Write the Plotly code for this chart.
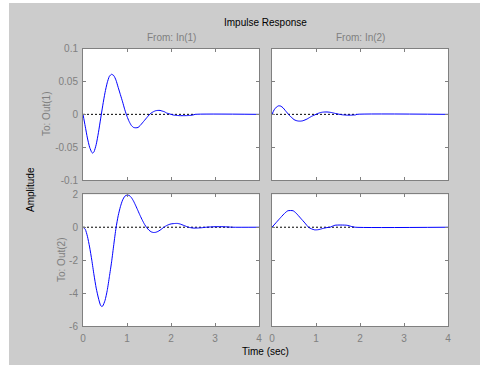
import plotly.graph_objects as go

# ---- data ----
t_11 = [0, 0.05, 0.10, 0.15, 0.20, 0.22, 0.25, 0.30, 0.35, 0.40, 0.45, 0.50, 0.55, 0.60, 0.65,
        0.70, 0.75, 0.80, 0.85, 0.90, 0.95, 1.00, 1.05, 1.10, 1.15, 1.20, 1.25, 1.30, 1.35, 1.40,
        1.45, 1.50, 1.55, 1.60, 1.65, 1.70, 1.75, 1.80, 1.85, 1.90, 1.95, 2.00, 2.05, 2.10, 2.20,
        2.30, 2.40, 2.50, 2.55, 4.0]
y_11 = [0, -0.018, -0.036, -0.050, -0.058, -0.059, -0.057, -0.046, -0.028, -0.007, 0.014, 0.033,
        0.048, 0.058, 0.061, 0.059, 0.052, 0.041, 0.030, 0.019, 0.007, -0.003, -0.011, -0.017,
        -0.020, -0.0205, -0.020, -0.017, -0.013, -0.009, -0.005, -0.001, 0.002, 0.004, 0.0055,
        0.006, 0.006, 0.005, 0.004, 0.002, 0.001, 0.0, -0.001, -0.0015, -0.002, -0.002, -0.0018,
        -0.001, 0, 0]
end_11 = 2.55

t_12 = [0, 0.05, 0.10, 0.15, 0.20, 0.25, 0.30, 0.35, 0.40, 0.45, 0.50, 0.55, 0.60, 0.65, 0.70,
        0.75, 0.80, 0.85, 0.90, 0.95, 1.00, 1.05, 1.10, 1.15, 1.20, 1.25, 1.30, 1.35, 1.40, 1.50,
        1.60, 1.70, 1.80, 1.90, 1.93, 4.0]
y_12 = [0, 0.007, 0.011, 0.013, 0.0125, 0.010, 0.006, 0.002, -0.002, -0.005, -0.008, -0.0095,
        -0.0102, -0.0103, -0.0098, -0.0085, -0.007, -0.005, -0.003, -0.0015, 0.0, 0.0015, 0.0027,
        0.0033, 0.0036, 0.0036, 0.0033, 0.0028, 0.002, 0.0005, -0.0007, -0.0012, -0.0012, -0.0008,
        0, 0]
end_12 = 1.93

t_21 = [0, 0.05, 0.10, 0.15, 0.20, 0.25, 0.30, 0.35, 0.40, 0.43, 0.45, 0.50, 0.55, 0.60, 0.65,
        0.70, 0.75, 0.80, 0.85, 0.90, 0.95, 1.00, 1.05, 1.10, 1.15, 1.20, 1.25, 1.30, 1.35, 1.40,
        1.45, 1.50, 1.55, 1.60, 1.65, 1.70, 1.75, 1.80, 1.85, 1.90, 1.95, 2.00, 2.10, 2.15, 2.20,
        2.30, 2.40, 2.50, 2.60, 2.70, 2.80, 3.00, 3.20, 3.40, 4.0]
y_21 = [0, -0.12, -0.55, -1.2, -2.0, -2.9, -3.7, -4.3, -4.75, -4.82, -4.78, -4.45, -3.85, -3.0,
        -2.1, -1.05, -0.05, 0.7, 1.25, 1.65, 1.88, 1.96, 1.93, 1.8, 1.58, 1.3, 1.0, 0.7, 0.42,
        0.17, -0.03, -0.18, -0.28, -0.32, -0.31, -0.26, -0.18, -0.08, 0.02, 0.1, 0.16, 0.2, 0.23,
        0.23, 0.2, 0.1, 0.0, -0.05, -0.05, -0.03, 0.0, 0.03, 0.03, 0.0, 0.0]
end_21 = 3.4

t_22 = [0, 0.10, 0.20, 0.30, 0.36, 0.48, 0.55, 0.65, 0.75, 0.83, 0.90, 0.97, 1.05, 1.15, 1.25,
        1.32, 1.43, 1.70, 1.80, 1.89, 4.0]
y_22 = [0, 0.3, 0.6, 0.88, 1.0, 1.0, 0.85, 0.55, 0.25, 0.0, -0.1, -0.16, -0.15, -0.08, -0.02,
        0.0, 0.12, 0.12, 0.05, 0.0, 0.0]
end_22 = 1.89

x_ticks = [0, 1, 2, 3, 4]
y_ticks_top = [-0.1, -0.05, 0, 0.05, 0.1]
y_ticklabels_top = ["-0.1", "-0.05", "0", "0.05", "0.1"]
y_ticks_bot = [-6, -4, -2, 0, 2]
y_ticklabels_bot = ["-6", "-4", "-2", "0", "2"]

W, H = 480, 365
def px(x): return x / W
def py(y): return 1 - y / H

fig = go.Figure()

panels = [
    ("x", "y", t_11, y_11, end_11),
    ("x2", "y2", t_12, y_12, end_12),
    ("x3", "y3", t_21, y_21, end_21),
    ("x4", "y4", t_22, y_22, end_22),
]
for xa, ya, t, y, e in panels:
    fig.add_trace(go.Scatter(x=[0, e], y=[0, 0], mode="lines", xaxis=xa, yaxis=ya,
                             line=dict(color="black", width=1, dash="2px,2px"),
                             showlegend=False, hoverinfo="skip"))
    fig.add_trace(go.Scatter(x=t, y=y, mode="lines", xaxis=xa, yaxis=ya,
                             line=dict(color="#0000ff", width=1, shape="spline", smoothing=0.6),
                             showlegend=False))

font = dict(family="Liberation Sans, Arial, sans-serif", size=10, color="#808080")
ax_common = dict(range=[0, 4], showline=True, mirror="ticks", linecolor="#808080", linewidth=1,
                 ticks="inside", ticklen=3, tickcolor="#808080", showgrid=False, zeroline=False,
                 tickvals=x_ticks, tickfont=font, ticklabelstandoff=3, automargin=False)
yax_common = dict(showline=True, mirror="ticks", linecolor="#808080", linewidth=1,
                  ticks="inside", ticklen=3, tickcolor="#808080", showgrid=False, zeroline=False,
                  tickfont=font, ticklabelstandoff=2, automargin=False)

xl = [px(83), px(259)]
xr = [px(272), px(448)]
yt = [py(180), py(48.7)]
yb = [py(326), py(194.3)]

fig.update_layout(
    width=W, height=H, autosize=False, margin=dict(l=0, r=0, t=0, b=0, pad=0, autoexpand=False),
    paper_bgcolor="#cccccc", plot_bgcolor="white",
    xaxis=dict(domain=xl, anchor="y", showticklabels=False, **ax_common),
    xaxis2=dict(domain=xr, anchor="y2", showticklabels=False, **ax_common),
    xaxis3=dict(domain=xl, anchor="y3", showticklabels=True, **ax_common),
    xaxis4=dict(domain=xr, anchor="y4", showticklabels=True, **ax_common),
    yaxis=dict(domain=yt, anchor="x", range=[-0.1, 0.1], tickvals=y_ticks_top,
               ticktext=y_ticklabels_top, **yax_common),
    yaxis2=dict(domain=yt, anchor="x2", range=[-0.1, 0.1], tickvals=y_ticks_top,
                showticklabels=False, **yax_common),
    yaxis3=dict(domain=yb, anchor="x3", range=[-6, 2], tickvals=y_ticks_bot,
                ticktext=y_ticklabels_bot, **yax_common),
    yaxis4=dict(domain=yb, anchor="x4", range=[-6, 2], tickvals=y_ticks_bot,
                showticklabels=False, **yax_common),
    shapes=[
        dict(type="rect", xref="paper", yref="paper", x0=0, x1=1, y0=py(3), y1=1,
             fillcolor="white", line=dict(width=0)),
        dict(type="rect", xref="paper", yref="paper", x0=0, x1=px(9), y0=0, y1=1,
             fillcolor="white", line=dict(width=0)),
    ],
)

black = dict(family="Liberation Sans, Arial, sans-serif", size=10, color="black")
gray = dict(family="Liberation Sans, Arial, sans-serif", size=10, color="#808080")
ann = [
    dict(text="Impulse Response", x=px(265.5), y=py(23), font=black),
    dict(text="From: In(1)", x=px(171), y=py(37), font=gray),
    dict(text="From: In(2)", x=px(360), y=py(37), font=gray),
    dict(text="To: Out(1)", x=px(46), y=py(114), font=gray, textangle=-90),
    dict(text="To: Out(2)", x=px(61), y=py(260), font=gray, textangle=-90),
    dict(text="Amplitude", x=px(30), y=py(190), font=black, textangle=-90),
    dict(text="Time (sec)", x=px(265), y=py(351), font=black),
]
for a in ann:
    fig.add_annotation(xref="paper", yref="paper", showarrow=False,
                       xanchor="center", yanchor="middle", **a)

fig.write_html("out.html", config={"staticPlot": True, "displayModeBar": False})
